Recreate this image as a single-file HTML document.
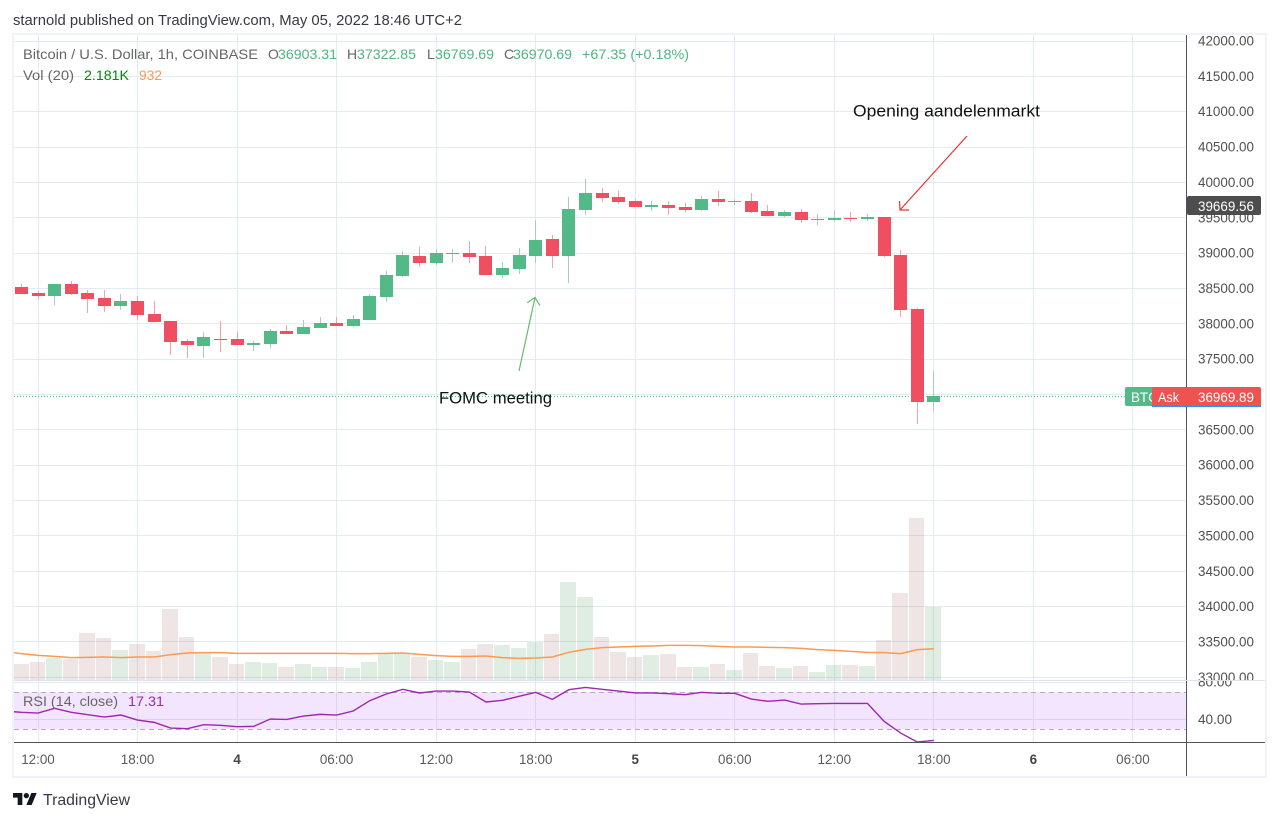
<!DOCTYPE html>
<html>
<head>
<meta charset="utf-8">
<title>Bitcoin / U.S. Dollar chart</title>
<style>
html,body{margin:0;padding:0;background:#fff;width:1279px;height:821px;overflow:hidden}
svg{display:block}
text{font-family:"Liberation Sans",sans-serif}
</style>
</head>
<body>
<svg id="chart" xmlns="http://www.w3.org/2000/svg" width="1279" height="821" viewBox="0 0 1279 821">
  <defs>
    <clipPath id="plot-clip"><rect x="14" y="35" width="1172" height="707"/></clipPath>
    <clipPath id="price-pane-clip"><rect x="14" y="35" width="1172" height="645"/></clipPath>
    <clipPath id="price-labels-clip"><rect x="1187" y="35" width="78" height="645"/></clipPath>
    <clipPath id="rsi-labels-clip"><rect x="1187" y="681" width="78" height="61"/></clipPath>
    <clipPath id="btc-label-clip"><rect x="1125" y="387" width="27" height="20"/></clipPath>
  </defs>

  <text x="13" y="25" font-size="14.6" fill="#363a45" textLength="449" lengthAdjust="spacingAndGlyphs">starnold published on TradingView.com, May 05, 2022 18:46 UTC+2</text>

  <g id="grid" clip-path="url(#plot-clip)"></g>
  <rect id="rsiBand" x="14" width="1172" fill="#9b26ee" fill-opacity="0.12"/>
  <g id="rsiGuides"></g>
  <g id="volume" clip-path="url(#price-pane-clip)"></g>
  <line id="lastPriceLine" x1="14" x2="1125" stroke="#53b987" stroke-width="1" stroke-dasharray="1 2"/>
  <path id="volMa" fill="none" stroke="#ff9850" stroke-width="1.5" clip-path="url(#price-pane-clip)"/>
  <g id="candles" clip-path="url(#price-pane-clip)"></g>
  <path id="rsiLine" fill="none" stroke="#9c27b0" stroke-width="1.4" clip-path="url(#plot-clip)"/>

  <g stroke="#66bb6a" stroke-width="1.2" fill="none">
    <line x1="519" y1="371" x2="535" y2="297.5"/>
    <polyline points="527.3,302.7 535,297.5 540,305.6"/>
  </g>
  <text x="439" y="403.5" font-size="16.7" fill="#111" textLength="113" lengthAdjust="spacingAndGlyphs">FOMC meeting</text>
  <g stroke="#f23030" stroke-width="1.2" fill="none">
    <line x1="967" y1="136" x2="900" y2="210"/>
    <polyline points="899.5,201 900,210 909,210"/>
  </g>
  <text x="853" y="116.5" font-size="17" fill="#111" textLength="187" lengthAdjust="spacingAndGlyphs">Opening aandelenmarkt</text>

  <g font-size="14" fill="#666">
    <text x="23" y="59" textLength="235" lengthAdjust="spacingAndGlyphs">Bitcoin / U.S. Dollar, 1h, COINBASE</text>
    <text x="268" y="59">O</text>
    <text x="278" y="59" fill="#4eb583" textLength="59" lengthAdjust="spacingAndGlyphs">36903.31</text>
    <text x="347" y="59">H</text>
    <text x="357" y="59" fill="#4eb583" textLength="59" lengthAdjust="spacingAndGlyphs">37322.85</text>
    <text x="427" y="59">L</text>
    <text x="435" y="59" fill="#4eb583" textLength="59" lengthAdjust="spacingAndGlyphs">36769.69</text>
    <text x="504" y="59">C</text>
    <text x="513" y="59" fill="#4eb583" textLength="59" lengthAdjust="spacingAndGlyphs">36970.69</text>
    <text x="582" y="59" fill="#4eb583" textLength="107" lengthAdjust="spacingAndGlyphs">+67.35 (+0.18%)</text>
    <text x="23" y="80" textLength="51" lengthAdjust="spacingAndGlyphs">Vol (20)</text>
    <text x="84" y="80" fill="#0a850f" textLength="45" lengthAdjust="spacingAndGlyphs">2.181K</text>
    <text x="139" y="80" fill="#ff9850" textLength="23" lengthAdjust="spacingAndGlyphs">932</text>
    <text x="23" y="706" textLength="95" lengthAdjust="spacingAndGlyphs">RSI (14, close)</text>
    <text x="128" y="706" fill="#9c27b0" textLength="36" lengthAdjust="spacingAndGlyphs">17.31</text>
  </g>

  <rect x="1186" y="35" width="1" height="741" fill="#50535e"/>
  <rect x="14" y="742" width="1251" height="1" fill="#50535e"/>
  <rect x="14" y="680" width="1251" height="1" fill="#e0e3eb"/>

  <g id="priceLabels" clip-path="url(#price-labels-clip)"></g>
  <g id="rsiLabels" clip-path="url(#rsi-labels-clip)"></g>
  <g id="timeLabels"></g>

  <g>
    <rect x="1187" y="196" width="74" height="19" rx="2" fill="#4d4d4d"/>
    <text x="1198" y="211" font-size="13.4" fill="#fff" textLength="56" lengthAdjust="spacingAndGlyphs">39669.56</text>
  </g>
  <g>
    <rect x="1125" y="387" width="32" height="19" rx="2" fill="#53b987"/>
    <text x="1131" y="402" font-size="13.4" fill="#fff" clip-path="url(#btc-label-clip)">BTC</text>
  </g>
  <g>
    <rect x="1152" y="405" width="109" height="2" fill="#2196f3"/>
    <rect x="1152" y="387" width="109" height="19" rx="2" fill="#ef5350"/>
    <text x="1158" y="402" font-size="13.4" fill="#fff" textLength="21" lengthAdjust="spacingAndGlyphs">Ask</text>
    <text x="1198" y="402" font-size="13.4" fill="#fff" textLength="56" lengthAdjust="spacingAndGlyphs">36969.89</text>
  </g>

  <g fill="#f0f3fa">
    <rect x="12" y="33" width="1255" height="2"/>
    <rect x="12" y="776" width="1255" height="2"/>
    <rect x="12" y="33" width="2" height="745"/>
    <rect x="1265" y="33" width="2" height="745"/>
  </g>

  <g>
    <g transform="translate(13,790.3) scale(0.667)" fill="#131722">
      <path d="M14 22H7V11H0V4h14v18zM28 22h-8l7.5-18h8L28 22z"/>
      <circle cx="20" cy="8" r="4"/>
    </g>
    <text x="43" y="805" font-size="15.6" fill="#363a45" textLength="87" lengthAdjust="spacingAndGlyphs">TradingView</text>
  </g>
</svg>

<script>
// Candles are hourly. Hour 0 is May 3 12:00.
const firstCandleHour = -1;
const candleOpens = [38519,38434,38392,38561,38434,38363,38250,38321,38137,38038,37755,37685,37783,37783,37699,37713,37897,37854,37939,38010,37967,38052,38378,38675,38958,38858,38986,39000,38958,38689,38774,38958,39198,38958,39608,39849,39792,39735,39651,39679,39651,39608,39764,39721,39735,39594,39523,39580,39467,39467,39495,39481,39509,38972,38208,36892];
const highs  = [38561,38462,38561,38604,38477,38477,38420,38392,38321,38038,37783,37882,38038,37882,37755,37925,37981,38052,38095,38095,38123,38420,38745,39028,39085,39057,39057,39170,39099,38873,39071,39467,39255,39792,40047,39919,39877,39764,39735,39735,39707,39806,39877,39764,39849,39679,39608,39622,39552,39608,39580,39552,39509,39042,38222,37331];
const lows   = [38420,38349,38264,38406,38151,38165,38194,38052,38024,37557,37515,37515,37600,37699,37614,37656,37854,37854,37939,37967,37953,38052,38307,38660,38802,38830,38858,38858,38689,38646,38703,38858,38788,38576,39537,39721,39693,39651,39594,39537,39580,39594,39665,39679,39566,39523,39509,39424,39396,39453,39438,39453,38943,38095,36581,36765];
const closes = [38420,38392,38561,38420,38349,38250,38321,38123,38024,37741,37699,37812,37769,37699,37727,37897,37854,37953,38010,37967,38066,38392,38689,38972,38858,39000,39000,38943,38689,38788,38972,39184,38958,39622,39849,39778,39721,39651,39679,39636,39608,39764,39721,39735,39580,39523,39580,39467,39481,39495,39481,39509,38958,38194,36892,36977];
const volumes = [478,538,657,627,1404,1255,896,1076,867,2121,1285,807,687,478,538,508,388,478,388,388,359,538,777,777,687,598,538,926,1076,1046,956,1135,1374,2928,2480,1285,837,687,747,777,388,388,478,299,807,418,359,418,239,448,448,418,1195,2600,4840,2181];
// Line series start one hour earlier so they reach the left edge of the plot.
const firstLineHour = -2;
const volumeMa = [847,787,737,707,667,677,687,667,687,687,757,807,817,817,797,797,797,797,797,797,797,787,787,797,807,767,727,707,707,717,667,647,657,687,827,916,966,986,1006,1016,1036,1036,1026,1006,986,986,976,966,946,906,886,857,827,817,787,906,932];
const rsiValues = [48.9,47.5,46.7,51.8,47.5,45.0,42.4,44.6,39.2,36.7,30.6,29.9,34.2,33.5,32.1,32.4,40.3,39.9,43.5,45.3,44.6,48.9,60.0,67.2,72.2,68.3,70.4,70.4,69.3,58.6,60.4,64.7,69.0,61.4,71.8,74.3,72.2,70.4,68.3,68.3,67.5,66.5,69.0,67.9,67.9,61.8,59.3,60.7,56.4,56.8,57.1,57.1,57.1,37.8,25.2,15.6,17.31];
const priceTicks = [42000,41500,41000,40500,40000,39500,39000,38500,38000,37500,37000,36500,36000,35500,35000,34500,34000,33500,33000];
const rsiTicks = [80,40];
const rsiBandLevels = [70,30];
const timeTickHours = [0,6,12,18,24,30,36,42,48,54,60,66];
const timeTickLabels = ['12:00','18:00','4','06:00','12:00','18:00','5','06:00','12:00','18:00','6','06:00'];
const boldTimeTicks = ['4','5','6'];
const lastPrice = 36970;

const NS = 'http://www.w3.org/2000/svg';
function xAt(hour){ return 38 + hour * 16.59; }
function yPrice(p){ return 182.4 + (40000 - p) * 0.0707; }
function yVolume(v){ return 680 - v * 0.03347; }
function yRsi(v){ return 719.3 - (v - 40) * 0.93; }

function make(tag, attrs, parent){
  const el = document.createElementNS(NS, tag);
  for (const k in attrs) el.setAttribute(k, attrs[k]);
  parent.appendChild(el);
  return el;
}

const grid = document.getElementById('grid');
const GRID = '#e3ebf2';
priceTicks.forEach(function(p){
  const el = make('rect', {x:14, y:Math.floor(yPrice(p)), width:1172, height:1, fill:GRID}, grid);
  
  
});
rsiTicks.forEach(function(v){
  const el = make('rect', {x:14, y:Math.floor(yRsi(v)), width:1172, height:1, fill:GRID}, grid);
  
  
});
timeTickHours.forEach(function(h){
  const el = make('rect', {x:Math.floor(xAt(h)), y:35, width:1, height:707, fill:GRID}, grid);
  
  
});

function guideY(v){ return Math.floor(yRsi(v) + 0.7); }
const band = document.getElementById('rsiBand');
band.setAttribute('y', guideY(rsiBandLevels[0]));
band.setAttribute('height', guideY(rsiBandLevels[1]) - guideY(rsiBandLevels[0]));
const guides = document.getElementById('rsiGuides');
rsiBandLevels.forEach(function(v){
  const y = guideY(v) + 0.5;
  const el = make('line', {x1:14, x2:1186, y1:y, y2:y, stroke:'#b9a8bf', 'stroke-width':1, 'stroke-dasharray':'5 4'}, guides);
  
  
});

const volG = document.getElementById('volume');
volumes.forEach(function(v, i){
  const h = firstCandleHour + i;
  const left = Math.floor(xAt(h)) - 8;
  const w = Math.floor(xAt(h + 1)) - Math.floor(xAt(h)) - 1;
  const up = closes[i] >= candleOpens[i];
  const top = yVolume(v);
  const el = make('rect', {x:left, y:top, width:w, height:680 - top, fill: up ? 'rgba(83,160,100,0.19)' : 'rgba(140,70,70,0.14)'}, volG);
  
  
});

document.getElementById('lastPriceLine').setAttribute('y1', Math.floor(yPrice(lastPrice)) + 0.5);
document.getElementById('lastPriceLine').setAttribute('y2', Math.floor(yPrice(lastPrice)) + 0.5);

document.getElementById('volMa').setAttribute('d', volumeMa.map(function(v, i){
  return (i ? 'L' : 'M') + xAt(firstLineHour + i).toFixed(2) + ' ' + yVolume(v).toFixed(2);
}).join(' '));

document.getElementById('rsiLine').setAttribute('d', rsiValues.map(function(v, i){
  return (i ? 'L' : 'M') + xAt(firstLineHour + i).toFixed(2) + ' ' + yRsi(v).toFixed(2);
}).join(' '));

const candleG = document.getElementById('candles');
candleOpens.forEach(function(o, i){
  const c = closes[i];
  const up = c >= o;
  const cx = Math.floor(xAt(firstCandleHour + i));
  const wickTop = Math.round(yPrice(highs[i]));
  const wickBottom = Math.round(yPrice(lows[i]));
  const bodyTop = Math.round(yPrice(Math.max(o, c)));
  const bodyBottom = Math.round(yPrice(Math.min(o, c)));
  const wick = make('rect', {x:cx, y:wickTop, width:1, height:Math.max(1, wickBottom - wickTop), fill: up ? '#a5cdc9' : '#f7a0ac'}, candleG);
  
  
  const body = make('rect', {x:cx - 6, y:bodyTop, width:13, height:Math.max(1, bodyBottom - bodyTop), fill: up ? '#53b987' : '#ef4f60'}, candleG);
  
  
});

const priceG = document.getElementById('priceLabels');
priceTicks.forEach(function(p){
  const el = make('text', {x:1198, y:yPrice(p) + 4.5, 'font-size':13.4, fill:'#505050', textLength:56, lengthAdjust:'spacingAndGlyphs'}, priceG);
  
  
  el.textContent = p.toFixed(2);
});
const rsiG = document.getElementById('rsiLabels');
rsiTicks.forEach(function(v){
  const el = make('text', {x:1198, y:yRsi(v) + 4.5, 'font-size':13.4, fill:'#505050', textLength:34, lengthAdjust:'spacingAndGlyphs'}, rsiG);
  
  
  el.textContent = v.toFixed(2);
});
const timeG = document.getElementById('timeLabels');
timeTickLabels.forEach(function(label, i){
  const bold = boldTimeTicks.indexOf(label) >= 0;
  const el = make('text', {x:xAt(timeTickHours[i]), y:764, 'font-size':13.4, 'text-anchor':'middle', fill: bold ? '#444' : '#5a5a5a', 'font-weight': bold ? 'bold' : 'normal'}, timeG);
  
  
  el.textContent = label;
});
</script>
</body>
</html>
